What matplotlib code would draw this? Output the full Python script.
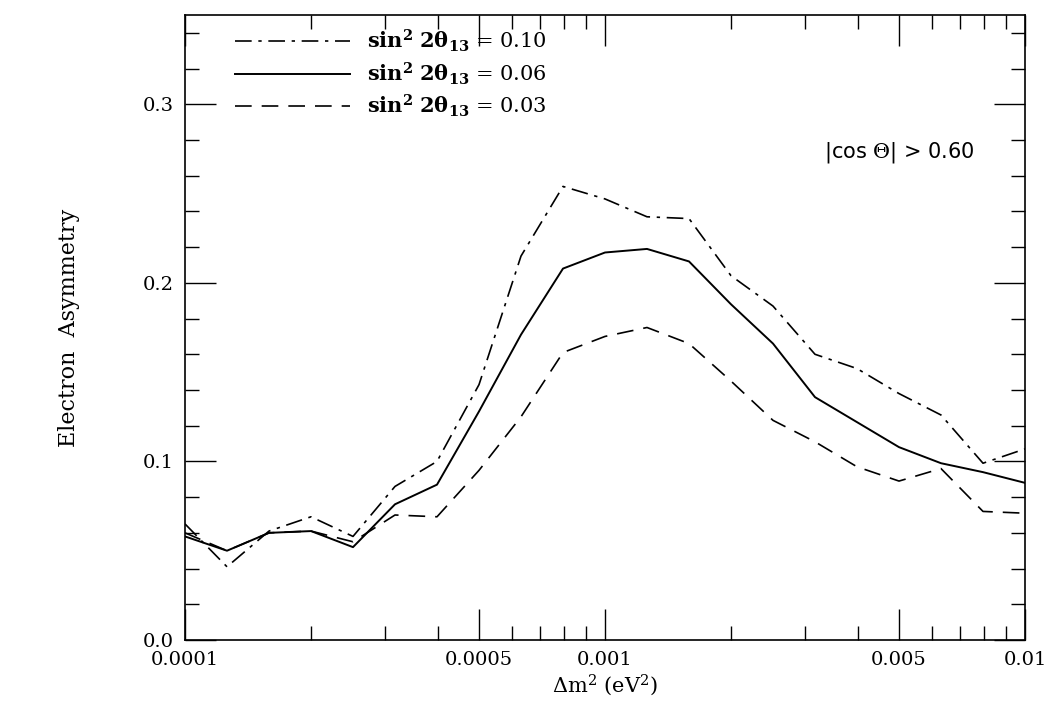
import numpy as np
import matplotlib.pyplot as plt
from matplotlib.ticker import FixedLocator, FixedFormatter, MultipleLocator, LogLocator, NullFormatter

dm2 = 10 ** (-4 + 0.1 * np.arange(21))
a010 = [0.065, 0.041, 0.061, 0.069, 0.058, 0.086, 0.100, 0.143, 0.215, 0.254, 0.247,
        0.237, 0.236, 0.204, 0.187, 0.160, 0.152, 0.138, 0.126, 0.099, 0.107]
a006 = [0.058, 0.050, 0.060, 0.061, 0.052, 0.076, 0.087, 0.128, 0.171, 0.208, 0.217,
        0.219, 0.212, 0.188, 0.166, 0.136, 0.122, 0.108, 0.099, 0.094, 0.088]
a003 = [0.060, 0.050, 0.060, 0.061, 0.055, 0.070, 0.069, 0.095, 0.125, 0.161, 0.170,
        0.175, 0.166, 0.145, 0.123, 0.111, 0.097, 0.089, 0.096, 0.072, 0.071]

plt.rcParams['font.family'] = 'DejaVu Serif'
plt.rcParams['mathtext.fontset'] = 'dejavuserif'
fig = plt.figure(figsize=(10.48, 7.23), dpi=100)
ax = fig.add_axes([185/1048, 1-640/723, 840/1048, 625/723])

ax.plot(dm2, a010, 'k', lw=1.2, dashes=[10, 4, 2, 4], label=r'$\mathbf{sin^2\ 2\theta_{13}}$ = 0.10')
ax.plot(dm2, a006, 'k-', lw=1.4, label=r'$\mathbf{sin^2\ 2\theta_{13}}$ = 0.06')
ax.plot(dm2, a003, 'k', lw=1.2, dashes=[10, 6], label=r'$\mathbf{sin^2\ 2\theta_{13}}$ = 0.03')

ax.set_xscale('log')
ax.set_xlim(1e-4, 1e-2)
ax.set_ylim(0, 0.35)
ticks = [1e-4, 5e-4, 1e-3, 5e-3, 1e-2]
ax.xaxis.set_major_locator(FixedLocator(ticks))
ax.xaxis.set_major_formatter(FixedFormatter(['0.0001', '0.0005', '0.001', '0.005', '0.01']))
ax.xaxis.set_minor_locator(LogLocator(subs=np.arange(2, 10)))
ax.xaxis.set_minor_formatter(NullFormatter())
ax.yaxis.set_minor_locator(MultipleLocator(0.02))
ax.set_yticks([0, 0.1, 0.2, 0.3])
ax.set_yticklabels(['0.0', '0.1', '0.2', '0.3'])
ax.tick_params(which='both', direction='in', top=True, right=True, labelsize=14)
ax.tick_params(which='major', length=22, width=1, pad=8)
ax.tick_params(which='minor', length=10, width=1)
for s in ax.spines.values():
    s.set_linewidth(1.2)

ax.set_xlabel(r'$\Delta$m$^2$ (eV$^2$)', fontsize=15, labelpad=2)
ax.set_ylabel('Electron  Asymmetry', fontsize=16, labelpad=45)
ax.text(0.94, 0.78, r'|cos $\Theta$| > 0.60', transform=ax.transAxes, fontsize=15,
        ha='right', va='center', family='DejaVu Sans')
ax.legend(loc='upper left', bbox_to_anchor=(0.045, 1.0), frameon=False, fontsize=15,
          handlelength=5.5, borderaxespad=0.2, labelspacing=0.3)

fig.savefig('out.png', dpi=100)
